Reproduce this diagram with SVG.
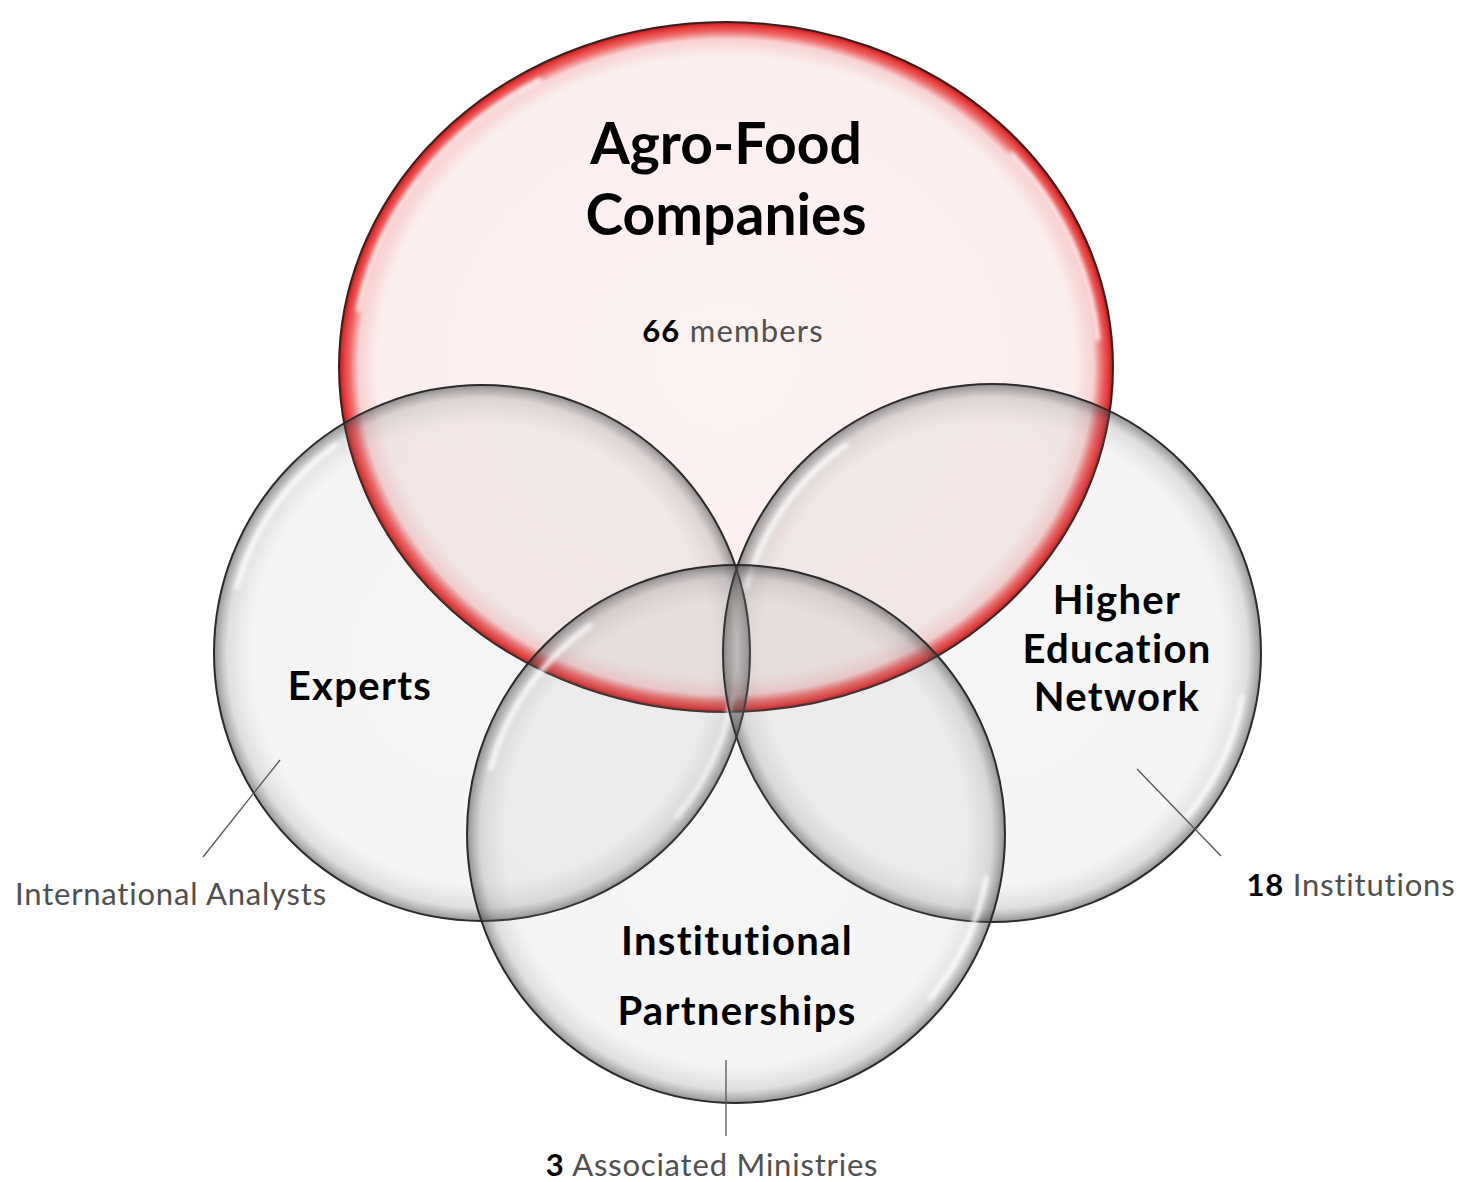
<svg xmlns="http://www.w3.org/2000/svg" width="1473" height="1182" viewBox="0 0 1473 1182">
<defs>
<radialGradient id="gRed" cx="0.5" cy="0.5" r="0.5">
<stop offset="0" stop-color="#fdf3f3"/>
<stop offset="0.9" stop-color="#fbeeee"/>
<stop offset="0.95" stop-color="#f8d2d2"/>
<stop offset="0.972" stop-color="#ef6a6a"/>
<stop offset="0.99" stop-color="#e43535"/>
<stop offset="1" stop-color="#a81c1c"/>
</radialGradient>
<radialGradient id="gGrey" cx="0.5" cy="0.5" r="0.5">
<stop offset="0" stop-color="#8a8a8a" stop-opacity="0.08"/>
<stop offset="0.86" stop-color="#8a8a8a" stop-opacity="0.09"/>
<stop offset="0.95" stop-color="#6e6e6e" stop-opacity="0.22"/>
<stop offset="1" stop-color="#3c3c3c" stop-opacity="0.55"/>
</radialGradient>
<filter id="blur" x="-10%" y="-10%" width="120%" height="120%">
<feGaussianBlur stdDeviation="2"/>
</filter>
</defs>
<style>
text{font-variant-ligatures:none;font-family:Lato,"Liberation Sans",sans-serif}
.grey{fill:url(#gGrey);stroke:#2b2b2b;stroke-width:2}
.red{fill:url(#gRed);stroke:#3a1f1f;stroke-width:2}
.hl{fill:none;stroke:#fff;stroke-width:5;stroke-linecap:round;opacity:0.85;filter:url(#blur)}
.title{font-weight:700;fill:#000;text-anchor:middle}
.lbl{font-weight:700;fill:#000;text-anchor:middle;font-size:40px;letter-spacing:1.3px}
.sub{font-weight:400;fill:#505050;font-size:31px;letter-spacing:0.8px;text-anchor:middle}
.num{font-weight:700;fill:#000}
.lead{stroke:#555;stroke-width:1.3;fill:none}
</style>
<rect width="1473" height="1182" fill="#fff"/>

<g id="agro-food">
<ellipse class="red" cx="726" cy="367" rx="387" ry="345"/>
<path class="hl" d="M358.7 309.5 A373 331 0 0 1 539.5 80.3"/>
<path class="hl" d="M1011.7 154.2 A373 331 0 0 1 1097.6 338.2"/>
<text class="title" x="726" y="164" font-size="57">Agro-Food</text>
<text class="title" x="726" y="235" font-size="57">Companies</text>
<text class="sub" x="733" y="342" font-size="32" style="letter-spacing:1.2px"><tspan class="num">66</tspan> members</text>
</g>

<g id="experts">
<circle class="grey" cx="482" cy="653" r="268"/>
<path class="hl" d="M236.7 587.3 A254 254 0 0 1 336.3 444.9"/>
<path class="hl" d="M732.1 697.1 A254 254 0 0 1 676.6 816.3"/>
<text class="lbl" x="360" y="700">Experts</text>
</g>

<g id="higher-education">
<circle class="grey" cx="992" cy="653" r="269"/>
<path class="hl" d="M746.7 587.3 A254 254 0 0 1 846.3 444.9"/>
<path class="hl" d="M1242.1 697.1 A254 254 0 0 1 1186.6 816.3"/>
<text class="lbl" x="1117" y="614">Higher</text>
<text class="lbl" x="1117" y="663">Education</text>
<text class="lbl" x="1117" y="711">Network</text>
</g>

<g id="institutional">
<circle class="grey" cx="736" cy="834" r="269"/>
<path class="hl" d="M490.7 768.3 A254 254 0 0 1 590.3 625.9"/>
<path class="hl" d="M986.1 878.1 A254 254 0 0 1 930.6 997.3"/>
<text class="lbl" x="737" y="955">Institutional</text>
<text class="lbl" x="737" y="1025">Partnerships</text>
</g>

<g id="connectors">
<line class="lead" x1="280" y1="760" x2="203" y2="857"/>
<line class="lead" x1="1137" y1="769" x2="1221" y2="856"/>
<line class="lead" x1="726" y1="1060" x2="726" y2="1136"/>
</g>

<g id="label-analysts">
<text class="sub" x="171" y="905">International Analysts</text>
</g>
<g id="label-institutions">
<text class="sub" x="1351" y="896"><tspan class="num">18</tspan> Institutions</text>
</g>
<g id="label-ministries">
<text class="sub" x="712" y="1176"><tspan class="num">3</tspan> Associated Ministries</text>
</g>
</svg>
